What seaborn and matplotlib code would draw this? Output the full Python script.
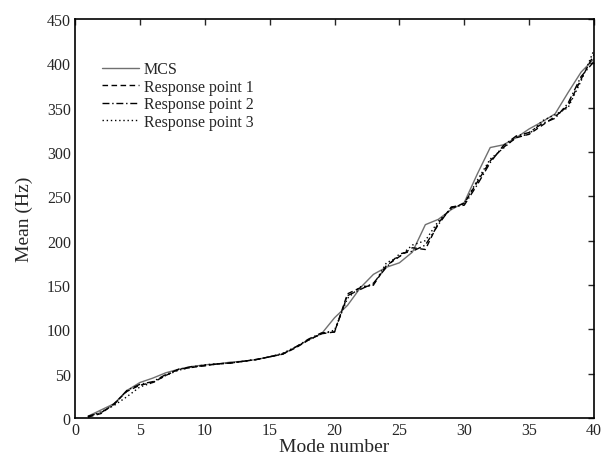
import numpy as np
import pandas as pd
import matplotlib
matplotlib.use("Agg")
import matplotlib.pyplot as plt
import seaborn as sns

modes = list(range(1, 41))
mcs = [2, 9, 16, 31, 40, 45, 51, 55, 58, 60, 61, 63, 64, 66, 69, 72, 80, 88, 95, 113,
       127, 147, 162, 170, 175, 187, 218, 224, 235, 243, 275, 305, 308, 316, 326, 334, 343, 367, 390, 405]
rp1 = [1, 5, 16, 30, 37, 40, 48, 55, 57, 59, 61, 62, 64, 66, 69, 72, 79, 88, 95, 97,
       140, 147, 150, 172, 182, 192, 190, 220, 237, 242, 266, 290, 305, 316, 320, 330, 340, 352, 382, 410]
rp2 = [2, 6, 15, 31, 38, 41, 49, 55, 58, 59, 61, 62, 64, 66, 69, 72, 80, 89, 96, 97,
       138, 145, 152, 170, 185, 188, 195, 218, 238, 240, 263, 288, 307, 318, 322, 332, 338, 355, 385, 402]
rp3 = [1, 7, 14, 24, 35, 40, 48, 54, 57, 60, 61, 62, 64, 66, 69, 73, 80, 88, 95, 99,
       135, 148, 150, 175, 182, 195, 200, 222, 236, 242, 268, 292, 304, 317, 320, 335, 342, 350, 380, 415]
series_names = ["MCS", "Response point 1", "Response point 2", "Response point 3"]
x_ticks = [0, 5, 10, 15, 20, 25, 30, 35, 40]
y_ticks = [0, 50, 100, 150, 200, 250, 300, 350, 400, 450]

df = pd.concat([
    pd.DataFrame({"Mode number": modes, "Mean (Hz)": vals, "series": name})
    for name, vals in zip(series_names, [mcs, rp1, rp2, rp3])
], ignore_index=True)

sns.set_style("white")
plt.rcParams["font.family"] = ["Liberation Serif", "DejaVu Serif"]
plt.rcParams["font.size"] = 11.5

fig = plt.figure(figsize=(6.01, 4.64), dpi=100)
ax = fig.add_axes([0.1248, 0.097, 0.8636, 0.86])

palette = {"MCS": "#707070", "Response point 1": "black",
           "Response point 2": "black", "Response point 3": "black"}
dashes = {"MCS": "", "Response point 1": (4, 2.5),
          "Response point 2": (5, 2, 1, 2), "Response point 3": (1, 2)}
sns.lineplot(data=df, x="Mode number", y="Mean (Hz)", hue="series", style="series",
             palette=palette, dashes=dashes, linewidth=1.0, ax=ax)

ax.set_xlim(0, 40)
ax.set_ylim(0, 450)
ax.set_xticks(x_ticks)
ax.set_yticks(y_ticks)
ax.tick_params(direction="in", top=True, right=True, length=4, width=1, labelsize=11.5, pad=3)
for s in ax.spines.values():
    s.set_linewidth(1.2)
    s.set_color("black")
ax.set_xlabel("Mode number", fontsize=14, labelpad=0)
ax.set_ylabel("Mean (Hz)", fontsize=14, labelpad=10)

leg = ax.legend(loc="upper left", bbox_to_anchor=(0.04, 0.91), frameon=False,
                handlelength=2.3, handletextpad=0.3, labelspacing=0.1, fontsize=11.5,
                borderaxespad=0)
fig.savefig("out.png", dpi=100)
